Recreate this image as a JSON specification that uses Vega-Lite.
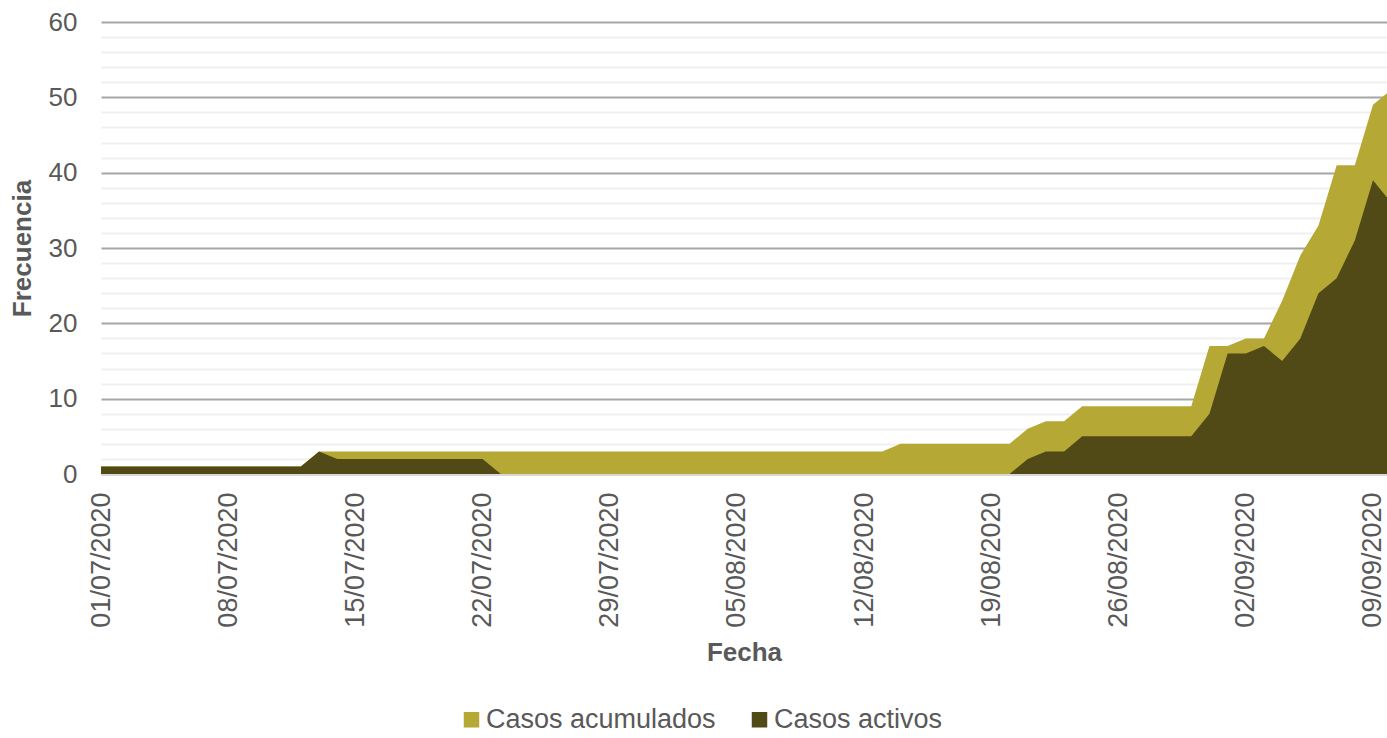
{
  "$schema": "https://vega.github.io/schema/vega-lite/v6.json",
  "width": 1286,
  "height": 452,
  "autosize": {"type": "none"},
  "padding": {"left": 101, "top": 22, "right": 0, "bottom": 264},
  "background": "white",
  "config": {"view": {"stroke": null}, "font": "Liberation Sans"},
  "data": {"values": [
    {"fecha": "2020-07-01", "acum": 1, "act": 1},
    {"fecha": "2020-07-02", "acum": 1, "act": 1},
    {"fecha": "2020-07-03", "acum": 1, "act": 1},
    {"fecha": "2020-07-04", "acum": 1, "act": 1},
    {"fecha": "2020-07-05", "acum": 1, "act": 1},
    {"fecha": "2020-07-06", "acum": 1, "act": 1},
    {"fecha": "2020-07-07", "acum": 1, "act": 1},
    {"fecha": "2020-07-08", "acum": 1, "act": 1},
    {"fecha": "2020-07-09", "acum": 1, "act": 1},
    {"fecha": "2020-07-10", "acum": 1, "act": 1},
    {"fecha": "2020-07-11", "acum": 1, "act": 1},
    {"fecha": "2020-07-12", "acum": 1, "act": 1},
    {"fecha": "2020-07-13", "acum": 3, "act": 3},
    {"fecha": "2020-07-14", "acum": 3, "act": 2},
    {"fecha": "2020-07-15", "acum": 3, "act": 2},
    {"fecha": "2020-07-16", "acum": 3, "act": 2},
    {"fecha": "2020-07-17", "acum": 3, "act": 2},
    {"fecha": "2020-07-18", "acum": 3, "act": 2},
    {"fecha": "2020-07-19", "acum": 3, "act": 2},
    {"fecha": "2020-07-20", "acum": 3, "act": 2},
    {"fecha": "2020-07-21", "acum": 3, "act": 2},
    {"fecha": "2020-07-22", "acum": 3, "act": 2},
    {"fecha": "2020-07-23", "acum": 3, "act": 0},
    {"fecha": "2020-07-24", "acum": 3, "act": 0},
    {"fecha": "2020-07-25", "acum": 3, "act": 0},
    {"fecha": "2020-07-26", "acum": 3, "act": 0},
    {"fecha": "2020-07-27", "acum": 3, "act": 0},
    {"fecha": "2020-07-28", "acum": 3, "act": 0},
    {"fecha": "2020-07-29", "acum": 3, "act": 0},
    {"fecha": "2020-07-30", "acum": 3, "act": 0},
    {"fecha": "2020-07-31", "acum": 3, "act": 0},
    {"fecha": "2020-08-01", "acum": 3, "act": 0},
    {"fecha": "2020-08-02", "acum": 3, "act": 0},
    {"fecha": "2020-08-03", "acum": 3, "act": 0},
    {"fecha": "2020-08-04", "acum": 3, "act": 0},
    {"fecha": "2020-08-05", "acum": 3, "act": 0},
    {"fecha": "2020-08-06", "acum": 3, "act": 0},
    {"fecha": "2020-08-07", "acum": 3, "act": 0},
    {"fecha": "2020-08-08", "acum": 3, "act": 0},
    {"fecha": "2020-08-09", "acum": 3, "act": 0},
    {"fecha": "2020-08-10", "acum": 3, "act": 0},
    {"fecha": "2020-08-11", "acum": 3, "act": 0},
    {"fecha": "2020-08-12", "acum": 3, "act": 0},
    {"fecha": "2020-08-13", "acum": 3, "act": 0},
    {"fecha": "2020-08-14", "acum": 4, "act": 0},
    {"fecha": "2020-08-15", "acum": 4, "act": 0},
    {"fecha": "2020-08-16", "acum": 4, "act": 0},
    {"fecha": "2020-08-17", "acum": 4, "act": 0},
    {"fecha": "2020-08-18", "acum": 4, "act": 0},
    {"fecha": "2020-08-19", "acum": 4, "act": 0},
    {"fecha": "2020-08-20", "acum": 4, "act": 0},
    {"fecha": "2020-08-21", "acum": 6, "act": 2},
    {"fecha": "2020-08-22", "acum": 7, "act": 3},
    {"fecha": "2020-08-23", "acum": 7, "act": 3},
    {"fecha": "2020-08-24", "acum": 9, "act": 5},
    {"fecha": "2020-08-25", "acum": 9, "act": 5},
    {"fecha": "2020-08-26", "acum": 9, "act": 5},
    {"fecha": "2020-08-27", "acum": 9, "act": 5},
    {"fecha": "2020-08-28", "acum": 9, "act": 5},
    {"fecha": "2020-08-29", "acum": 9, "act": 5},
    {"fecha": "2020-08-30", "acum": 9, "act": 5},
    {"fecha": "2020-08-31", "acum": 17, "act": 8},
    {"fecha": "2020-09-01", "acum": 17, "act": 16},
    {"fecha": "2020-09-02", "acum": 18, "act": 16},
    {"fecha": "2020-09-03", "acum": 18, "act": 17},
    {"fecha": "2020-09-04", "acum": 23, "act": 15},
    {"fecha": "2020-09-05", "acum": 29, "act": 18},
    {"fecha": "2020-09-06", "acum": 33, "act": 24},
    {"fecha": "2020-09-07", "acum": 41, "act": 26},
    {"fecha": "2020-09-08", "acum": 41, "act": 31},
    {"fecha": "2020-09-09", "acum": 49, "act": 39},
    {"fecha": "2020-09-10", "acum": 51, "act": 36}
  ]},
  "encoding": {
    "x": {
      "field": "fecha",
      "type": "temporal",
      "scale": {
        "type": "utc",
        "domain": [
          {"year": 2020, "month": 7, "date": 1, "utc": true},
          {"year": 2020, "month": 9, "date": 9, "hours": 18, "minutes": 30, "utc": true}
        ]
      },
      "axis": {
        "values": [
          {"year": 2020, "month": 7, "date": 1, "utc": true},
          {"year": 2020, "month": 7, "date": 8, "utc": true},
          {"year": 2020, "month": 7, "date": 15, "utc": true},
          {"year": 2020, "month": 7, "date": 22, "utc": true},
          {"year": 2020, "month": 7, "date": 29, "utc": true},
          {"year": 2020, "month": 8, "date": 5, "utc": true},
          {"year": 2020, "month": 8, "date": 12, "utc": true},
          {"year": 2020, "month": 8, "date": 19, "utc": true},
          {"year": 2020, "month": 8, "date": 26, "utc": true},
          {"year": 2020, "month": 9, "date": 2, "utc": true},
          {"year": 2020, "month": 9, "date": 9, "utc": true}
        ],
        "tickCount": 20,
        "format": "%d/%m/%Y",
        "labelAngle": 270,
        "labelFontSize": 27,
        "labelColor": "#595959",
        "labelPadding": 18,
        "labelFlush": false,
        "labelOverlap": false,
        "labelLimit": 300,
        "grid": false,
        "ticks": false,
        "domainColor": "#d9d9d9",
        "domainWidth": 2,
        "title": "Fecha",
        "titleFontSize": 26,
        "titleFontWeight": "bold",
        "titleColor": "#595959",
        "titlePadding": 12
      }
    }
  },
  "layer": [
    {
      "mark": {"type": "area", "clip": true, "opacity": 1},
      "encoding": {
        "y": {
          "field": "acum",
          "type": "quantitative",
          "title": "Frecuencia",
          "scale": {"domain": [0, 60], "nice": false},
          "axis": {
            "values": [0, 2, 4, 6, 8, 10, 12, 14, 16, 18, 20, 22, 24, 26, 28, 30, 32, 34, 36, 38, 40, 42, 44, 46, 48, 50, 52, 54, 56, 58, 60],
            "tickCount": 31,
            "labelExpr": "datum.value % 10 === 0 ? datum.label : ''",
            "labelOverlap": false,
            "gridColor": {"condition": {"test": "datum.value % 10 === 0", "value": "#a6a6a6"}, "value": "#efefef"},
            "gridWidth": 2,
            "ticks": false,
            "domain": false,
            "labelFontSize": 26,
            "labelColor": "#595959",
            "labelPadding": 24,
            "titleFontSize": 26,
            "titleFontWeight": "bold",
            "titleColor": "#595959",
            "titlePadding": 13
          }
        },
        "color": {
          "datum": "Casos acumulados",
          "type": "nominal",
          "scale": {"domain": ["Casos acumulados", "Casos activos"], "range": ["#b5a835", "#514a17"]},
          "legend": {
            "orient": "none",
            "legendX": 357,
            "legendY": 684,
            "direction": "horizontal",
            "title": null,
            "symbolType": "square",
            "symbolSize": 240,
            "symbolStrokeWidth": 0,
            "symbolOpacity": 1,
            "labelFontSize": 27,
            "labelColor": "#595959",
            "labelOffset": 1,
            "labelLimit": 400,
            "columnPadding": 30
          }
        }
      }
    },
    {
      "mark": {"type": "area", "clip": true, "opacity": 1},
      "encoding": {
        "y": {"field": "act", "type": "quantitative", "title": "Frecuencia"},
        "color": {"datum": "Casos activos", "type": "nominal"}
      }
    }
  ]
}
